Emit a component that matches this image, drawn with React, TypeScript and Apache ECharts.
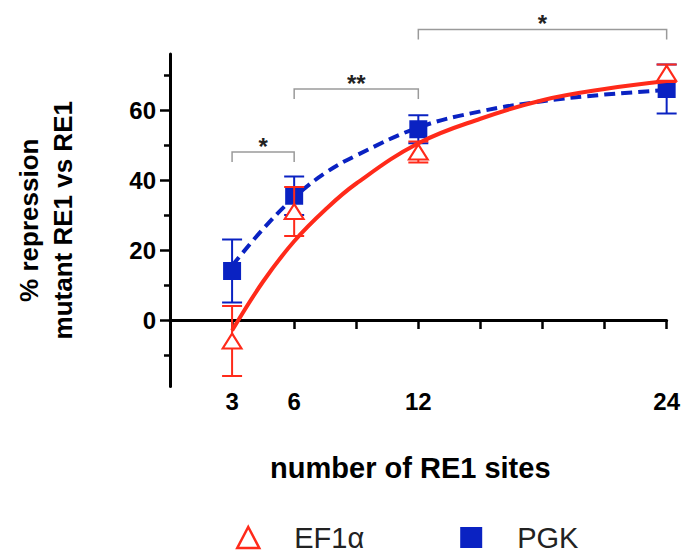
import React, { useEffect, useRef } from "react";
import * as echarts from "echarts";

// ---- data ----
const X_VALUES = [3, 6, 12, 24];
const EF1_MEAN = [-6, 31, 48, 70.5];
const EF1_ERR = [10, 7, 3, 2.5];
const PGK_MEAN = [14, 35.5, 54.5, 66];
const PGK_ERR = [9, 5.5, 4, 7];

const FIT_X = [3, 4.5, 6, 7.5, 9, 12, 15, 18, 21, 24];
const EF1_FIT = [-3, 11, 22.5, 31.5, 39, 50.5, 57.5, 62.8, 66, 68.3];
const PGK_FIT = [15.5, 26, 35, 42, 47, 55, 59.6, 62.5, 64.4, 65.7];

const X_TICK_LABELS = [3, 6, 12, 24];
const Y_TICK_LABELS = [0, 20, 40, 60];
const Y_MINOR_TICKS = [-10, 10, 30, 50, 70];

const BRACKETS = [
  [3, 6, 48],
  [6, 12, 66],
  [12, 24, 83],
];
const BRACKET_LABELS = ["*", "**", "*"];

const SERIES_NAMES = ["EF1α", "PGK"];
const X_TITLE = "number of RE1 sites";
const Y_TITLE = "% repression\nmutant RE1 vs RE1";

// ---- styles ----
const RED = "#ff2a1a";
const BLUE = "#0a22c2";
const FONT = "'Liberation Sans', Arial, Helvetica, sans-serif";

function errorRender(color: string) {
  return (params: any, api: any) => {
    const x = api.value(0);
    const lo = api.coord([x, api.value(1)]);
    const hi = api.coord([x, api.value(2)]);
    const hw = 10;
    const style = { stroke: color, lineWidth: 2, fill: "none" };
    return {
      type: "group",
      children: [
        { type: "line", shape: { x1: lo[0], y1: lo[1], x2: hi[0], y2: hi[1] }, style },
        { type: "line", shape: { x1: lo[0] - hw, y1: lo[1], x2: lo[0] + hw, y2: lo[1] }, style },
        { type: "line", shape: { x1: hi[0] - hw, y1: hi[1], x2: hi[0] + hw, y2: hi[1] }, style },
      ],
    };
  };
}

export default function App() {
  const ref = useRef<HTMLDivElement>(null);

  useEffect(() => {
    if (!ref.current) return;
    const chart = echarts.init(ref.current, undefined, { renderer: "svg" });

    const ef1Err = X_VALUES.map((x, i) => [x, EF1_MEAN[i] - EF1_ERR[i], EF1_MEAN[i] + EF1_ERR[i]]);
    const pgkErr = X_VALUES.map((x, i) => [x, PGK_MEAN[i] - PGK_ERR[i], PGK_MEAN[i] + PGK_ERR[i]]);
    const ef1Pts = X_VALUES.map((x, i) => [x, EF1_MEAN[i]]);
    const pgkPts = X_VALUES.map((x, i) => [x, PGK_MEAN[i]]);
    const ef1Fit = FIT_X.map((x, i) => [x, EF1_FIT[i]]);
    const pgkFit = FIT_X.map((x, i) => [x, PGK_FIT[i]]);

    const option: any = {
      animation: false,
      grid: { left: 170, right: 14, top: 54, bottom: 166.5 },
      legend: {
        left: 231,
        top: 518,
        itemWidth: 22,
        itemHeight: 21,
        itemGap: 96,
        selectedMode: false,
        data: [
          {
            name: SERIES_NAMES[0],
            icon: "triangle",
            itemStyle: { color: "#fff", borderColor: RED, borderWidth: 2.5 },
          },
          { name: SERIES_NAMES[1], icon: "rect", itemStyle: { color: BLUE } },
        ],
        textStyle: { fontSize: 29, color: "#222", fontFamily: FONT, padding: [0, 0, 0, 30] },
      },
      xAxis: {
        type: "value",
        min: 0,
        max: 24,
        interval: 3,
        axisLine: { show: true, onZero: true, lineStyle: { color: "#000", width: 3 } },
        axisTick: { show: true, length: 9, lineStyle: { color: "#000", width: 2.5 } },
        axisLabel: {
          margin: 3,
          fontSize: 24,
          fontWeight: "bold",
          color: "#000",
          fontFamily: FONT,
          formatter: (v: number) => (X_TICK_LABELS.includes(v) ? String(v) : ""),
        },
        splitLine: { show: false },
        name: X_TITLE,
        nameLocation: "middle",
        nameGap: 67,
        nameTextStyle: {
          fontSize: 29,
          fontWeight: "bold",
          color: "#000",
          fontFamily: FONT,
          padding: [0, 16, 0, 0],
        },
      },
      yAxis: [
        {
          type: "value",
          position: "left",
          min: -19,
          max: 76,
          axisLine: { show: true, onZero: false, lineStyle: { color: "#000", width: 3 } },
          axisTick: { show: true, length: 10, customValues: Y_TICK_LABELS, lineStyle: { color: "#000", width: 2.5 } },
          axisLabel: {
            customValues: Y_TICK_LABELS,
            margin: 14,
            fontSize: 24,
            fontWeight: "bold",
            color: "#000",
            fontFamily: FONT,
          },
          splitLine: { show: false },
          name: Y_TITLE,
          nameLocation: "middle",
          nameRotate: 90,
          nameGap: 90,
          nameTextStyle: {
            fontSize: 26,
            fontWeight: "bold",
            color: "#000",
            fontFamily: FONT,
            lineHeight: 34,
          },
        },
        {
          type: "value",
          position: "left",
          offset: 0,
          min: -19,
          max: 76,
          axisLine: { show: false, onZero: false },
          axisTick: { show: true, length: 6, customValues: Y_MINOR_TICKS, lineStyle: { color: "#000", width: 2.5 } },
          axisLabel: { show: false },
          splitLine: { show: false },
        },
      ],
      series: [
        {
          type: "custom",
          name: "PGK error",
          renderItem: errorRender(BLUE),
          data: pgkErr,
          encode: { x: 0, y: [1, 2] },
          clip: false,
          z: 2,
        },
        {
          type: "line",
          name: "PGK fit",
          data: pgkFit,
          smooth: 0.4,
          showSymbol: false,
          lineStyle: { color: BLUE, width: 4, type: [11, 6] },
          z: 3,
        },
        {
          type: "scatter",
          name: SERIES_NAMES[1],
          data: pgkPts,
          symbol: "rect",
          symbolSize: 18,
          itemStyle: { color: BLUE, opacity: 1 },
          z: 4,
        },
        {
          type: "custom",
          name: "EF1α error",
          renderItem: errorRender(RED),
          data: ef1Err,
          encode: { x: 0, y: [1, 2] },
          clip: false,
          z: 5,
        },
        {
          type: "line",
          name: "EF1α fit",
          data: ef1Fit,
          smooth: 0.4,
          showSymbol: false,
          lineStyle: { color: RED, width: 4 },
          z: 6,
        },
        {
          type: "scatter",
          name: SERIES_NAMES[0],
          data: ef1Pts,
          symbol: "triangle",
          symbolSize: [19, 15],
          itemStyle: { color: "#fff", borderColor: RED, borderWidth: 2, opacity: 1 },
          z: 7,
        },
        {
          type: "custom",
          name: "significance",
          data: BRACKETS.map((b, i) => [b[0], b[1], b[2], i]),
          encode: { x: [0, 1], y: 2 },
          clip: false,
          z: 8,
          renderItem: (params: any, api: any) => {
            const p1 = api.coord([api.value(0), api.value(2)]);
            const p2 = api.coord([api.value(1), api.value(2)]);
            const idx = api.value(3);
            const leg = 10;
            return {
              type: "group",
              children: [
                {
                  type: "polyline",
                  shape: {
                    points: [
                      [p1[0], p1[1] + leg],
                      [p1[0], p1[1]],
                      [p2[0], p2[1]],
                      [p2[0], p2[1] + leg],
                    ],
                  },
                  style: { stroke: "#9a9a9a", lineWidth: 1.5, fill: "none" },
                },
                {
                  type: "text",
                  x: (p1[0] + p2[0]) / 2,
                  y: p1[1] - 6,
                  style: {
                    text: BRACKET_LABELS[idx],
                    align: "center",
                    verticalAlign: "middle",
                    fill: "#222",
                    fontSize: 24,
                    fontWeight: "bold",
                    fontFamily: FONT,
                  },
                },
              ],
            };
          },
        },
      ],
    };

    chart.setOption(option);
    return () => chart.dispose();
  }, []);

  return (
    <div
      ref={ref}
      style={{ position: "fixed", left: 0, top: 0, width: 683, height: 553, background: "#fff" }}
    />
  );
}
